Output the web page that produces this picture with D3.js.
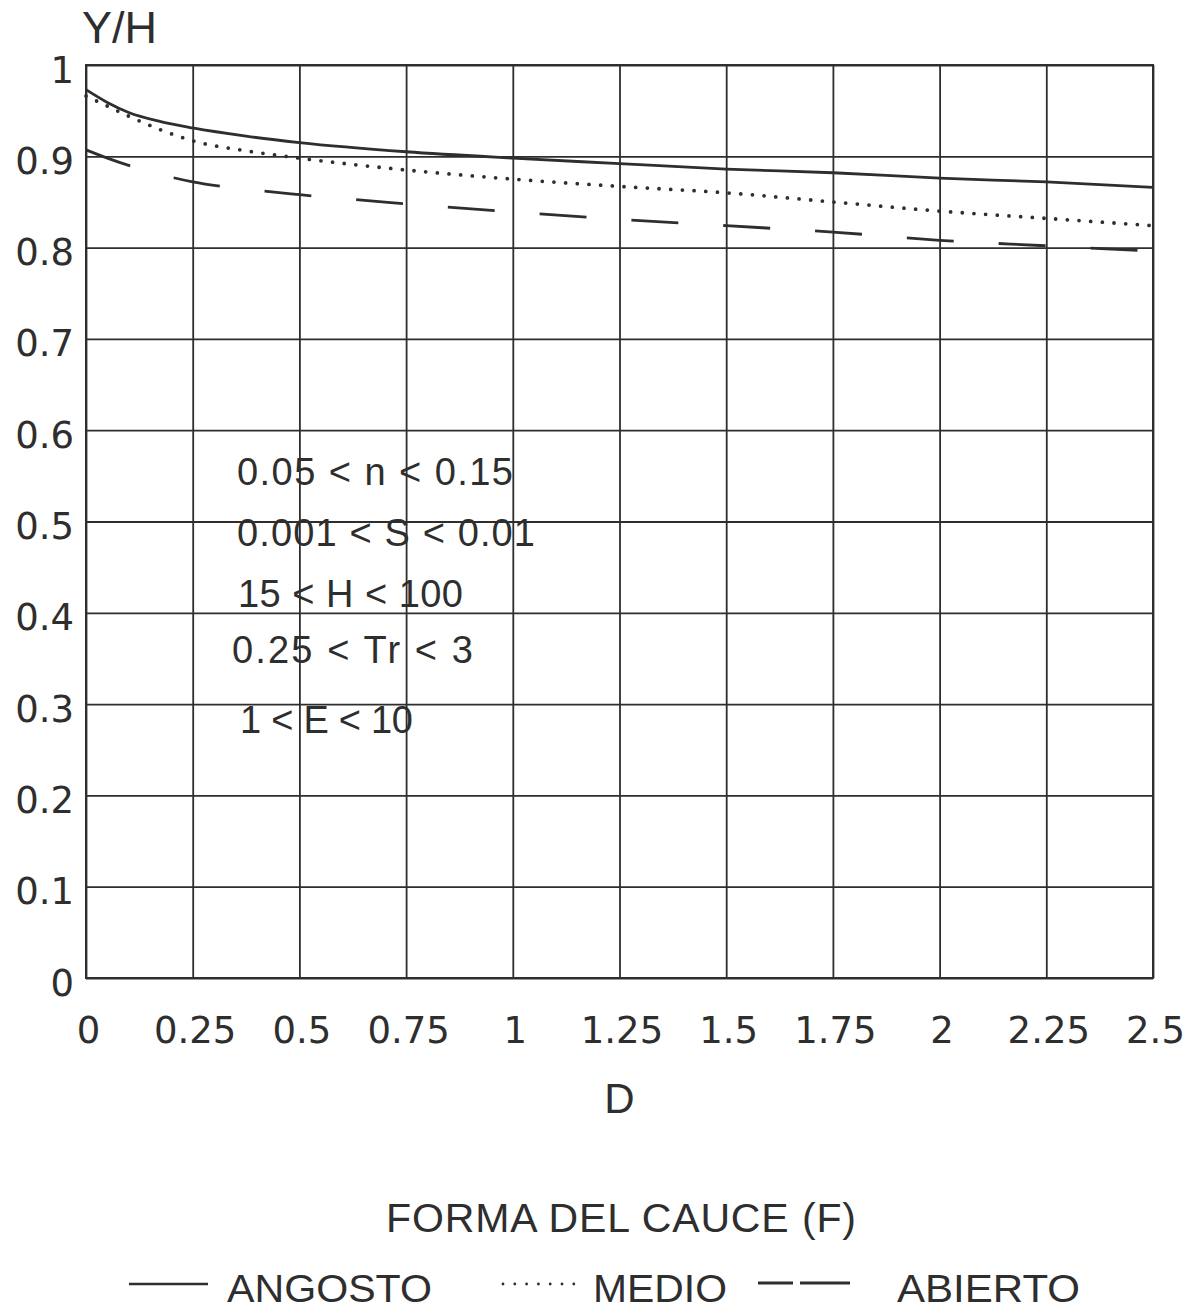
<!DOCTYPE html>
<html>
<head>
<meta charset="utf-8">
<script src="https://cdn.jsdelivr.net/npm/d3@7"></script>
<style>
  html, body { margin: 0; padding: 0; background: #fff; }
  svg { display: block; }
</style>
</head>
<body>
<svg id="chart" width="1198" height="1310"></svg>
<script>
// ---------------- DATA ----------------
const xValues = [0, 0.05, 0.1, 0.175, 0.25, 0.375, 0.5, 0.75, 1, 1.25, 1.5, 1.75, 2, 2.25, 2.5];
const angosto = [0.973, 0.959, 0.948, 0.938, 0.931, 0.922, 0.915, 0.905, 0.898, 0.892, 0.886, 0.882, 0.876, 0.872, 0.866];
const medio   = [0.966, 0.955, 0.944, 0.929, 0.917, 0.906, 0.898, 0.885, 0.875, 0.867, 0.860, 0.850, 0.840, 0.832, 0.824];
const abierto = [0.907, 0.898, 0.890, 0.880, 0.872, 0.864, 0.858, 0.848, 0.839, 0.831, 0.824, 0.817, 0.808, 0.802, 0.796];

const xTicks = [0, 0.25, 0.5, 0.75, 1, 1.25, 1.5, 1.75, 2, 2.25, 2.5];
const xTickLabels = ["0", "0.25", "0.5", "0.75", "1", "1.25", "1.5", "1.75", "2", "2.25", "2.5"];
const yTicks = [0, 0.1, 0.2, 0.3, 0.4, 0.5, 0.6, 0.7, 0.8, 0.9, 1];
const yTickLabels = ["0", "0.1", "0.2", "0.3", "0.4", "0.5", "0.6", "0.7", "0.8", "0.9", "1"];

const seriesNames = ["ANGOSTO", "MEDIO", "ABIERTO"];
const annotationLines = ["0.05 < n < 0.15", "0.001 < S < 0.01", "15 < H < 100", "0.25 < Tr < 3", "1 < E < 10"];
const yTitle = "Y/H";
const xTitle = "D";
const legendTitle = "FORMA DEL CAUCE (F)";

// ---------------- LAYOUT ----------------
(function () {
const ink = "#2e2e2e";
const pLeft = 86, pRight = 1153, pTop = 65, pBottom = 978;
const svg = d3.select("#chart");

const x = d3.scaleLinear().domain([0, 2.5]).range([pLeft, pRight]);
const y = d3.scaleLinear().domain([0, 1]).range([pBottom, pTop]);

// Grid + x labels
const xAxis = d3.axisBottom(x)
  .tickValues(xTicks)
  .tickSize(-(pBottom - pTop))
  .tickFormat((d, i) => xTickLabels[i]);
const gx = svg.append("g").attr("transform", `translate(0,${pBottom})`).call(xAxis);
gx.select(".domain").remove();
gx.selectAll(".tick line").attr("stroke", ink).attr("stroke-width", 1.8);
gx.selectAll(".tick text")
  .attr("y", 1043 - pBottom).attr("dy", 0).attr("dx", 2)
  .attr("fill", ink)
  .style("font-family", "'DejaVu Sans', sans-serif")
  .style("font-size", "37px");

const yAxis = d3.axisLeft(y)
  .tickValues(yTicks)
  .tickSize(-(pRight - pLeft))
  .tickFormat((d, i) => yTickLabels[i]);
const gy = svg.append("g").attr("transform", `translate(${pLeft},0)`).call(yAxis);
gy.select(".domain").remove();
gy.selectAll(".tick line").attr("stroke", ink).attr("stroke-width", 1.8);
gy.selectAll(".tick text")
  .attr("x", 74 - pLeft).attr("dy", 0).attr("y", 17)
  .attr("fill", ink)
  .attr("text-anchor", "end")
  .style("font-family", "'DejaVu Sans', sans-serif")
  .style("font-size", "37px");

// Frame
svg.append("rect")
  .attr("x", pLeft).attr("y", pTop)
  .attr("width", pRight - pLeft).attr("height", pBottom - pTop)
  .attr("fill", "none").attr("stroke", ink).attr("stroke-width", 2);

// Curves
const line = d3.line()
  .x((d, i) => x(xValues[i]))
  .y(d => y(d))
  .curve(d3.curveMonotoneX);

svg.append("path").datum(angosto)
  .attr("d", line).attr("fill", "none")
  .attr("stroke", ink).attr("stroke-width", 2.8);

svg.append("path").datum(medio)
  .attr("d", line).attr("fill", "none")
  .attr("stroke", ink).attr("stroke-width", 3.8)
  .attr("stroke-linecap", "round")
  .attr("stroke-dasharray", "0,11.7");

svg.append("path").datum(abierto)
  .attr("d", line).attr("fill", "none")
  .attr("stroke", ink).attr("stroke-width", 2.8)
  .attr("stroke-dasharray", "47,45");

// Annotation
const annX = [237, 237, 238, 232, 240];
const annBase = [485, 546, 607, 663, 733];
const annW = [276, 298, 225, 241, 173];
svg.append("g").selectAll("text").data(annotationLines).join("text")
  .attr("x", (d, i) => annX[i])
  .attr("y", (d, i) => annBase[i])
  .attr("textLength", (d, i) => annW[i])
  .attr("lengthAdjust", "spacing")
  .attr("fill", ink)
  .style("font-family", "'Liberation Sans', Arial, sans-serif")
  .style("font-size", "38px")
  .text(d => d);

// Axis titles
svg.append("text").attr("x", 82).attr("y", 43)
  .attr("fill", ink)
  .style("font-family", "'Liberation Sans', Arial, sans-serif")
  .style("font-size", "45px")
  .text(yTitle);

svg.append("text").attr("x", (pLeft + pRight) / 2).attr("y", 1113)
  .attr("text-anchor", "middle").attr("fill", ink)
  .style("font-family", "'Liberation Sans', Arial, sans-serif")
  .style("font-size", "42px")
  .text(xTitle);

// Legend
svg.append("text").attr("x", 621).attr("y", 1232)
  .attr("text-anchor", "middle").attr("fill", ink)
  .attr("textLength", 470).attr("lengthAdjust", "spacing")
  .style("font-family", "'Liberation Sans', Arial, sans-serif")
  .style("font-size", "41px")
  .text(legendTitle);

const legY = 1284;
const legBase = 1302;
const lg = svg.append("g");
lg.append("line").attr("x1", 129).attr("x2", 208).attr("y1", legY).attr("y2", legY)
  .attr("stroke", ink).attr("stroke-width", 2.6);
lg.append("line").attr("x1", 503).attr("x2", 574).attr("y1", legY).attr("y2", legY)
  .attr("stroke", ink).attr("stroke-width", 2.8).attr("stroke-linecap", "round")
  .attr("stroke-dasharray", "0,11.8");
lg.append("line").attr("x1", 758).attr("x2", 850).attr("y1", legY - 1).attr("y2", legY - 1)
  .attr("stroke", ink).attr("stroke-width", 3)
  .attr("stroke-dasharray", "35,7,50");

const legTextX = [227, 593, 897];
const legW = [205, 134, 183];
lg.selectAll("text.leg").data(seriesNames).join("text")
  .attr("class", "leg")
  .attr("x", (d, i) => legTextX[i]).attr("y", legBase)
  .attr("textLength", (d, i) => legW[i]).attr("lengthAdjust", "spacingAndGlyphs")
  .attr("fill", ink)
  .style("font-family", "'Liberation Sans', Arial, sans-serif")
  .style("font-size", "39px")
  .text(d => d);
})();
</script>
</body>
</html>
